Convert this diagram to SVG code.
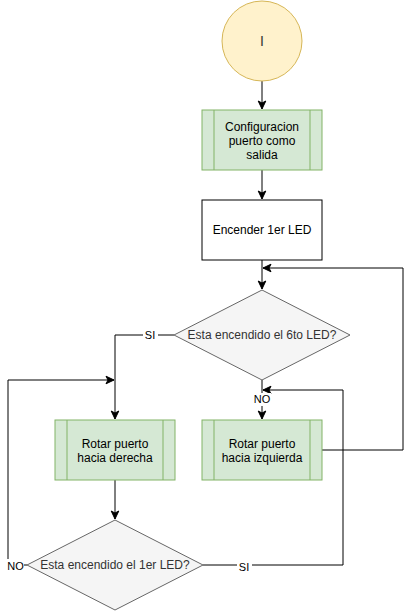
<svg xmlns="http://www.w3.org/2000/svg" width="412" height="611" viewBox="0 0 412 611">
<defs>
<marker id="arr" viewBox="0 0 10 10" refX="9" refY="5" markerWidth="10" markerHeight="10" markerUnits="userSpaceOnUse" orient="auto">
<path d="M1,1.2 L9,5 L1,8.8 L3,5 Z" fill="#000" stroke="#000" stroke-width="1"/>
</marker>
</defs>
<style>
text{font-family:"Liberation Sans",Arial,sans-serif;font-size:12px;text-anchor:middle;}
.n{fill:#000;}
.g{fill:#333333;}
.lbl{font-size:11px;fill:#000;}
.e{fill:none;stroke:#000;stroke-width:1;}
.green{fill:#d5e8d4;stroke:#82b366;stroke-width:1;}
.dia{fill:#f5f5f5;stroke:#666666;stroke-width:1;}
.bg{fill:#fff;}
</style>
<rect width="412" height="611" fill="#fff"/>
<g id="edges">
<path class="e" d="M262,81 V109" marker-end="url(#arr)"/>
<path class="e" d="M262,170 V199" marker-end="url(#arr)"/>
<path class="e" d="M262,260 V289" marker-end="url(#arr)"/>
<path class="e" d="M322,450 H403 V268 H263" marker-end="url(#arr)"/>
<path class="e" d="M174,335 H115 V419" marker-end="url(#arr)"/>
<path class="e" d="M262,380 V419" marker-end="url(#arr)"/>
<path class="e" d="M115,480 V519" marker-end="url(#arr)"/>
<path class="e" d="M27,565 H8 V380 H114" marker-end="url(#arr)"/>
<path class="e" d="M203,565 H343 V390 H263" marker-end="url(#arr)"/>
<rect class="bg" x="143" y="328" width="15" height="13"/>
<text class="lbl" x="150" y="339">SI</text>
<rect class="bg" x="254" y="393" width="17" height="13"/>
<text class="lbl" x="262" y="403">NO</text>
<rect class="bg" x="7" y="559" width="17" height="13"/>
<text class="lbl" x="15.5" y="570">NO</text>
<rect class="bg" x="237" y="560" width="15" height="13"/>
<text class="lbl" x="244" y="571">SI</text>
</g>
<g id="inicio">
<circle cx="262" cy="41" r="40" fill="#fff2cc" stroke="#d6b656"/>
<text class="g" x="262" y="46" style="font-size:14px">I</text>
</g>
<g id="config">
<rect class="green" x="202" y="110" width="120" height="60"/>
<path d="M214,110 V170 M310,110 V170" stroke="#82b366" fill="none"/>
<text class="n" x="262" y="131">Configuracion</text>
<text class="n" x="262" y="145">puerto como</text>
<text class="n" x="262" y="159">salida</text>
</g>
<g id="encender">
<rect x="202" y="200" width="120" height="60" fill="#fff" stroke="#000"/>
<text class="n" x="262" y="234">Encender 1er LED</text>
</g>
<g id="decision1">
<path class="dia" d="M262,290 L350,335 L262,380 L174,335 Z"/>
<text class="g" x="262" y="339">Esta encendido el 6to LED?</text>
</g>
<g id="rotar-derecha">
<rect class="green" x="55" y="420" width="120" height="60"/>
<path d="M67,420 V480 M163,420 V480" stroke="#82b366" fill="none"/>
<text class="n" x="115" y="448">Rotar puerto</text>
<text class="n" x="115" y="462">hacia derecha</text>
</g>
<g id="rotar-izquierda">
<rect class="green" x="202" y="420" width="120" height="60"/>
<path d="M214,420 V480 M310,420 V480" stroke="#82b366" fill="none"/>
<text class="n" x="262" y="448">Rotar puerto</text>
<text class="n" x="262" y="462">hacia izquierda</text>
</g>
<g id="decision2">
<path class="dia" d="M115,520 L203,565 L115,610 L27,565 Z"/>
<text class="g" x="115" y="569">Esta encendido el 1er LED?</text>
</g>
</svg>
